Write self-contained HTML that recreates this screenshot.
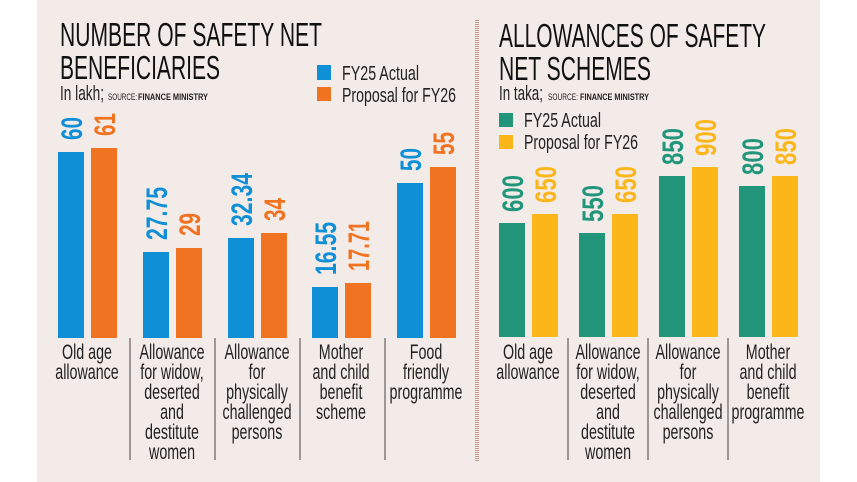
<!DOCTYPE html>
<html><head><meta charset="utf-8"><style>
html,body{margin:0;padding:0;background:#fff;}
svg{display:block}
text{font-family:"Liberation Sans Narrow","Liberation Sans",sans-serif;}
.t{font-size:33px;fill:#111}
.s{font-size:20px;fill:#222}
.l{font-size:21px;fill:#222}
.v{font-size:30px;font-weight:bold}
</style></head><body>
<svg width="857" height="482" viewBox="0 0 857 482" xmlns="http://www.w3.org/2000/svg">
<rect x="37" y="0" width="783" height="482" fill="#f3ebe8"/>
<line x1="477" y1="20" x2="477" y2="461" stroke="#c9978c" stroke-width="4" stroke-dasharray="1,1"/>
<text class="t" x="60" y="46" textLength="262" lengthAdjust="spacingAndGlyphs">NUMBER OF SAFETY NET</text>
<text class="t" x="60" y="79" textLength="160" lengthAdjust="spacingAndGlyphs">BENEFICIARIES</text>
<text class="s" x="60" y="100" textLength="44" lengthAdjust="spacingAndGlyphs">In lakh;</text>
<text x="108" y="100" font-size="9" fill="#222" textLength="29" lengthAdjust="spacingAndGlyphs">SOURCE:</text>
<text x="138" y="100" font-size="9" font-weight="bold" fill="#222" textLength="70" lengthAdjust="spacingAndGlyphs">FINANCE MINISTRY</text>
<rect x="317" y="65" width="14" height="15" fill="#0e8fd6"/>
<rect x="317" y="87" width="14" height="14" fill="#f07322"/>
<text class="s" x="342" y="80" textLength="77" lengthAdjust="spacingAndGlyphs">FY25 Actual</text>
<text class="s" x="342" y="102" textLength="114" lengthAdjust="spacingAndGlyphs">Proposal for FY26</text>
<g fill="#0e8fd6">
<rect x="58" y="152" width="26" height="186"/>
<rect x="143" y="252" width="26" height="86"/>
<rect x="228" y="238" width="26" height="100"/>
<rect x="312" y="287" width="26" height="51"/>
<rect x="397" y="183" width="26" height="155"/>
</g>
<g fill="#f07322">
<rect x="91" y="148" width="26" height="190"/>
<rect x="176" y="248" width="26" height="90"/>
<rect x="261" y="233" width="26" height="105"/>
<rect x="345" y="283" width="26" height="55"/>
<rect x="430" y="167" width="26" height="171"/>
</g>
<g fill="#0e8fd6">
<text class="v" transform="translate(82,140) rotate(-90)" textLength="23" lengthAdjust="spacingAndGlyphs">60</text>
<text class="v" transform="translate(167,240) rotate(-90)" textLength="53" lengthAdjust="spacingAndGlyphs">27.75</text>
<text class="v" transform="translate(252,226) rotate(-90)" textLength="53" lengthAdjust="spacingAndGlyphs">32.34</text>
<text class="v" transform="translate(336,275) rotate(-90)" textLength="53" lengthAdjust="spacingAndGlyphs">16.55</text>
<text class="v" transform="translate(421,171) rotate(-90)" textLength="23" lengthAdjust="spacingAndGlyphs">50</text>
</g>
<g fill="#f07322">
<text class="v" transform="translate(115,136) rotate(-90)" textLength="23" lengthAdjust="spacingAndGlyphs">61</text>
<text class="v" transform="translate(200,236) rotate(-90)" textLength="23" lengthAdjust="spacingAndGlyphs">29</text>
<text class="v" transform="translate(285,221) rotate(-90)" textLength="23" lengthAdjust="spacingAndGlyphs">34</text>
<text class="v" transform="translate(369,271) rotate(-90)" textLength="50" lengthAdjust="spacingAndGlyphs">17.71</text>
<text class="v" transform="translate(454,155) rotate(-90)" textLength="23" lengthAdjust="spacingAndGlyphs">55</text>
</g>
<g stroke="#444" stroke-width="1">
<line x1="130" y1="338" x2="130" y2="460"/><line x1="215" y1="338" x2="215" y2="460"/>
<line x1="300" y1="338" x2="300" y2="460"/><line x1="385" y1="338" x2="385" y2="460"/>
<line x1="568" y1="338" x2="568" y2="460"/><line x1="648" y1="338" x2="648" y2="460"/>
<line x1="728" y1="338" x2="728" y2="460"/>
</g>
<g class="l" text-anchor="middle">
<g transform="translate(87,0) scale(0.68,1)"><text class="l" x="0" y="359">Old age</text><text class="l" x="0" y="379">allowance</text></g>
<g transform="translate(172,0) scale(0.68,1)"><text class="l" x="0" y="359">Allowance</text><text class="l" x="0" y="379">for widow,</text><text class="l" x="0" y="399">deserted</text><text class="l" x="0" y="419">and</text><text class="l" x="0" y="439">destitute</text><text class="l" x="0" y="459">women</text></g>
<g transform="translate(257,0) scale(0.68,1)"><text class="l" x="0" y="359">Allowance</text><text class="l" x="0" y="379">for</text><text class="l" x="0" y="399">physically</text><text class="l" x="0" y="419">challenged</text><text class="l" x="0" y="439">persons</text></g>
<g transform="translate(341,0) scale(0.68,1)"><text class="l" x="0" y="359">Mother</text><text class="l" x="0" y="379">and child</text><text class="l" x="0" y="399">benefit</text><text class="l" x="0" y="419">scheme</text></g>
<g transform="translate(426,0) scale(0.68,1)"><text class="l" x="0" y="359">Food</text><text class="l" x="0" y="379">friendly</text><text class="l" x="0" y="399">programme</text></g>
<g transform="translate(528,0) scale(0.68,1)"><text class="l" x="0" y="359">Old age</text><text class="l" x="0" y="379">allowance</text></g>
<g transform="translate(608,0) scale(0.68,1)"><text class="l" x="0" y="359">Allowance</text><text class="l" x="0" y="379">for widow,</text><text class="l" x="0" y="399">deserted</text><text class="l" x="0" y="419">and</text><text class="l" x="0" y="439">destitute</text><text class="l" x="0" y="459">women</text></g>
<g transform="translate(688,0) scale(0.68,1)"><text class="l" x="0" y="359">Allowance</text><text class="l" x="0" y="379">for</text><text class="l" x="0" y="399">physically</text><text class="l" x="0" y="419">challenged</text><text class="l" x="0" y="439">persons</text></g>
<g transform="translate(768,0) scale(0.68,1)"><text class="l" x="0" y="359">Mother</text><text class="l" x="0" y="379">and child</text><text class="l" x="0" y="399">benefit</text><text class="l" x="0" y="419">programme</text></g>
</g>
<text class="t" x="499" y="47" textLength="267" lengthAdjust="spacingAndGlyphs">ALLOWANCES OF SAFETY</text>
<text class="t" x="499" y="80" textLength="152" lengthAdjust="spacingAndGlyphs">NET SCHEMES</text>
<text class="s" x="499" y="100" textLength="44" lengthAdjust="spacingAndGlyphs">In taka;</text>
<text x="548" y="100" font-size="9" fill="#222" textLength="30" lengthAdjust="spacingAndGlyphs">SOURCE:</text>
<text x="580" y="100" font-size="9" font-weight="bold" fill="#222" textLength="69" lengthAdjust="spacingAndGlyphs">FINANCE MINISTRY</text>
<rect x="499" y="113" width="14" height="14" fill="#21967a"/>
<rect x="499" y="135" width="14" height="14" fill="#fbb71a"/>
<text class="s" x="524" y="127" textLength="77" lengthAdjust="spacingAndGlyphs">FY25 Actual</text>
<text class="s" x="524" y="149" textLength="114" lengthAdjust="spacingAndGlyphs">Proposal for FY26</text>
<g fill="#21967a">
<rect x="499" y="223" width="26" height="114"/>
<rect x="579" y="233" width="26" height="104"/>
<rect x="659" y="176" width="26" height="161"/>
<rect x="739" y="186" width="26" height="151"/>
</g>
<g fill="#fbb71a">
<rect x="532" y="214" width="26" height="123"/>
<rect x="612" y="214" width="26" height="123"/>
<rect x="692" y="167" width="26" height="170"/>
<rect x="772" y="176" width="26" height="161"/>
</g>
<g fill="#21967a">
<text class="v" transform="translate(523,212) rotate(-90)" textLength="37" lengthAdjust="spacingAndGlyphs">600</text>
<text class="v" transform="translate(603,222) rotate(-90)" textLength="37" lengthAdjust="spacingAndGlyphs">550</text>
<text class="v" transform="translate(683,165) rotate(-90)" textLength="37" lengthAdjust="spacingAndGlyphs">850</text>
<text class="v" transform="translate(763,175) rotate(-90)" textLength="37" lengthAdjust="spacingAndGlyphs">800</text>
</g>
<g fill="#fbb71a">
<text class="v" transform="translate(556,203) rotate(-90)" textLength="37" lengthAdjust="spacingAndGlyphs">650</text>
<text class="v" transform="translate(636,203) rotate(-90)" textLength="37" lengthAdjust="spacingAndGlyphs">650</text>
<text class="v" transform="translate(716,156) rotate(-90)" textLength="37" lengthAdjust="spacingAndGlyphs">900</text>
<text class="v" transform="translate(796,165) rotate(-90)" textLength="37" lengthAdjust="spacingAndGlyphs">850</text>
</g>
</svg>
</body></html>
